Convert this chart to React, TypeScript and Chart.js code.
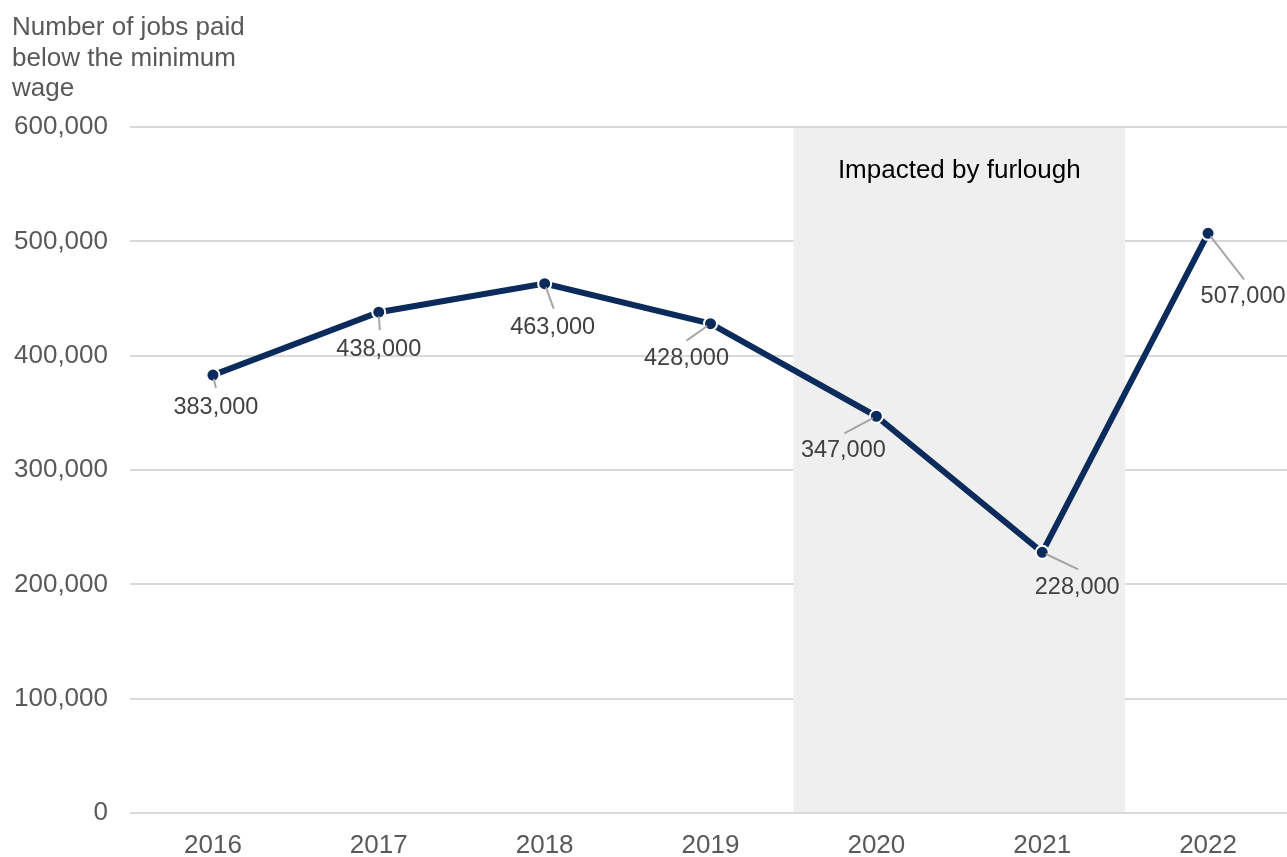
import React, { useEffect, useRef } from "react";
import { Chart, registerables } from "chart.js";

Chart.register(...registerables);

const years = ["2016", "2017", "2018", "2019", "2020", "2021", "2022"];
const jobsBelowMinimum = [383000, 438000, 463000, 428000, 347000, 228000, 507000];
const yTicks = [0, 100000, 200000, 300000, 400000, 500000, 600000];
const titleLines = ["Number of jobs paid", "below the minimum", "wage"];
const furloughLabel = "Impacted by furlough";
const furloughStart = "2020";
const furloughEnd = "2021";

// label placement (leader end and label centre, relative to each point), styling only
const labelPlacement = [
  { lx: 3, ly: 13, tx: 3, ty: 32 },
  { lx: 1, ly: 18, tx: 0, ty: 37 },
  { lx: 9, ly: 25, tx: 8, ty: 44 },
  { lx: -24, ly: 17, tx: -24, ty: 35 },
  { lx: -32, ly: 17, tx: -33, ty: 34 },
  { lx: 36, ly: 17, tx: 35, ty: 35 },
  { lx: 36, ly: 46, tx: 35, ty: 63 },
];

const FONT = "'Liberation Sans', Arial, sans-serif";
const fmt = (v: number) => v.toLocaleString("en-GB");

const furloughPlugin = {
  id: "furlough",
  beforeDatasetsDraw(chart: any) {
    const { ctx, scales } = chart;
    const x = scales.x;
    const y = scales.y;
    const i0 = years.indexOf(furloughStart);
    const i1 = years.indexOf(furloughEnd);
    const left = (x.getPixelForValue(i0 - 1) + x.getPixelForValue(i0)) / 2;
    const right = (x.getPixelForValue(i1) + x.getPixelForValue(i1 + 1)) / 2;
    const top = y.getPixelForValue(600000) + 1;
    const bottom = y.getPixelForValue(0) - 1;
    ctx.save();
    ctx.fillStyle = "#efefef";
    ctx.fillRect(left, top, right - left, bottom - top);
    ctx.fillStyle = "#000000";
    ctx.font = `26px ${FONT}`;
    ctx.textAlign = "center";
    ctx.textBaseline = "middle";
    ctx.fillText(furloughLabel, (left + right) / 2, 171);
    ctx.restore();
  },
};

const labelsPlugin = {
  id: "pointLabels",
  afterDatasetsDraw(chart: any) {
    const { ctx } = chart;
    const meta = chart.getDatasetMeta(0);
    ctx.save();
    meta.data.forEach((pt: any, i: number) => {
      const p = labelPlacement[i];
      const px = pt.x;
      const py = pt.y;
      const dx = p.lx;
      const dy = p.ly;
      const len = Math.sqrt(dx * dx + dy * dy);
      const sx = px + (dx / len) * 4;
      const sy = py + (dy / len) * 4;
      ctx.strokeStyle = "#a6a6a6";
      ctx.lineWidth = 2;
      ctx.beginPath();
      ctx.moveTo(sx, sy);
      ctx.lineTo(px + dx, py + dy);
      ctx.stroke();
      ctx.fillStyle = "#404040";
      ctx.font = `23.5px ${FONT}`;
      ctx.textAlign = "center";
      ctx.textBaseline = "middle";
      ctx.fillText(fmt(jobsBelowMinimum[i]), px + p.tx, py + p.ty);
    });
    ctx.restore();
  },
};

const titlePlugin = {
  id: "yTitle",
  afterDraw(chart: any) {
    const { ctx } = chart;
    ctx.save();
    ctx.fillStyle = "#595959";
    ctx.font = `26px ${FONT}`;
    ctx.textAlign = "left";
    ctx.textBaseline = "alphabetic";
    titleLines.forEach((line, i) => {
      ctx.fillText(line, 12, 35 + i * 30.5);
    });
    ctx.restore();
  },
};

export default function App() {
  const ref = useRef<HTMLCanvasElement | null>(null);

  useEffect(() => {
    document.body.style.margin = "0";
    document.body.style.overflow = "hidden";
    const canvas = ref.current;
    if (!canvas) return;
    const chart = new Chart(canvas, {
      type: "line",
      data: {
        labels: years,
        datasets: [
          {
            data: jobsBelowMinimum,
            borderColor: "#0a2b5c",
            borderWidth: 6,
            backgroundColor: "#0a2b5c",
            pointBackgroundColor: "#0a2b5c",
            pointBorderColor: "#ffffff",
            pointBorderWidth: 2,
            pointRadius: 6.5,
            tension: 0,
            clip: false as any,
          },
        ],
      },
      options: {
        animation: false,
        responsive: false,
        maintainAspectRatio: false,
        layout: { autoPadding: false, padding: { top: 127, left: 0, right: 0, bottom: 0 } },
        plugins: {
          legend: { display: false },
          tooltip: { enabled: false },
          title: { display: false },
        },
        scales: {
          x: {
            type: "category",
            offset: true,
            grid: { display: false, drawTicks: false },
            border: { display: false },
            ticks: {
              color: "#595959",
              font: { family: FONT, size: 26 },
              padding: 17,
              maxRotation: 0,
            },
            afterFit(scale: any) {
              scale.height = 44;
            },
          },
          y: {
            min: 0,
            max: 600000,
            afterBuildTicks(scale: any) {
              scale.ticks = yTicks.map((v) => ({ value: v }));
            },
            grid: { color: "#d9d9d9", lineWidth: 2, drawTicks: false },
            border: { display: false },
            ticks: {
              color: "#595959",
              font: { family: FONT, size: 26 },
              padding: 22,
              callback: (v: any) => fmt(Number(v)),
            },
            afterFit(scale: any) {
              scale.width = 130;
            },
          },
        },
      },
      plugins: [furloughPlugin, labelsPlugin, titlePlugin],
    });
    return () => chart.destroy();
  }, []);

  return (
    <div style={{ width: 1287, height: 857, overflow: "hidden" }}>
      <canvas ref={ref} width={1291} height={857} style={{ display: "block" }} />
    </div>
  );
}
